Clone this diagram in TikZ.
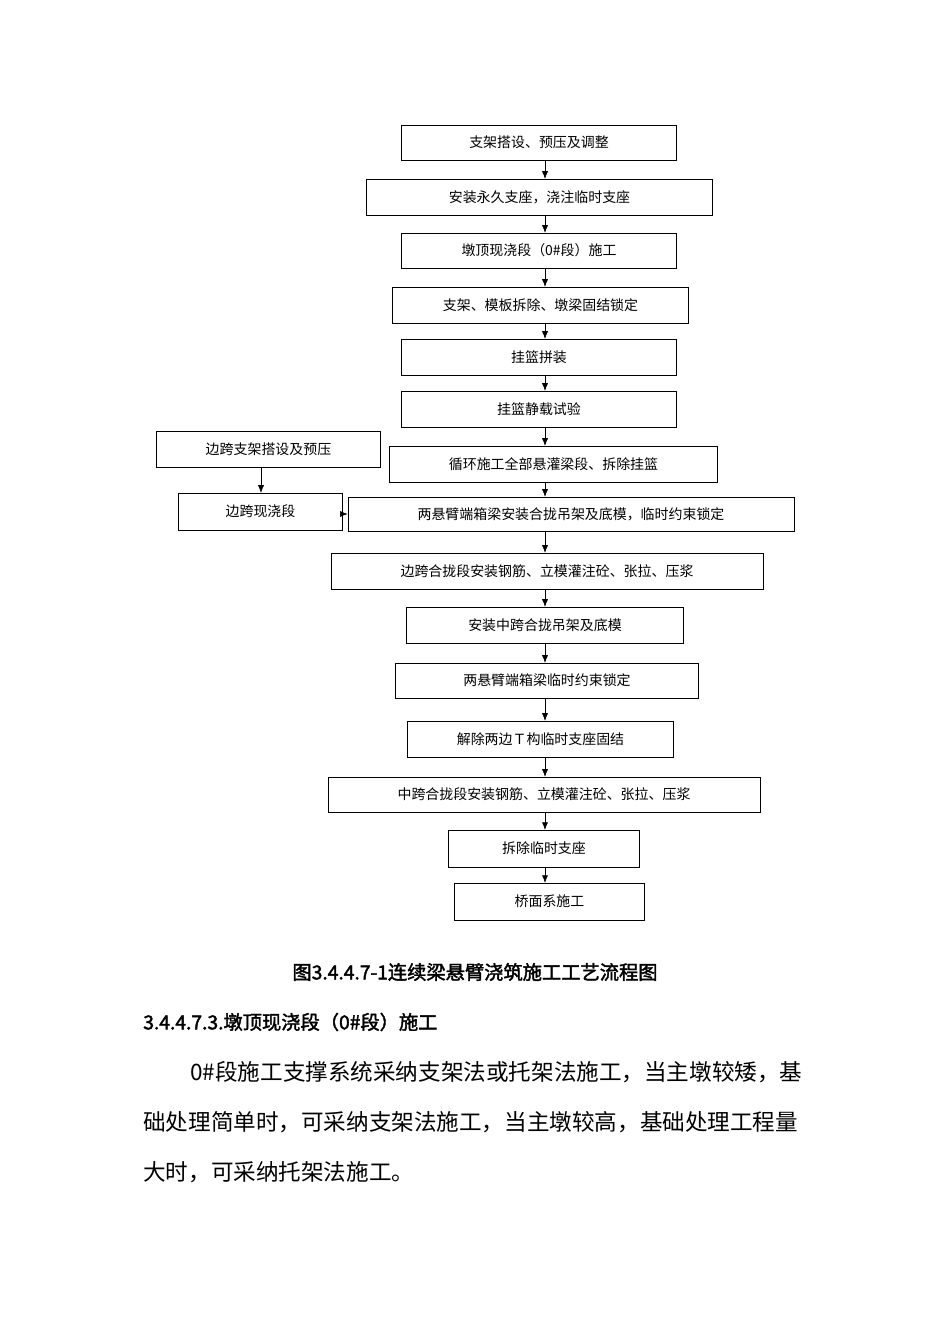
\documentclass[tikz,border=0pt]{standalone}
\usepackage{fontspec}
\setmainfont{Noto Sans CJK SC}[AutoFakeBold=2]
\usetikzlibrary{arrows.meta}
\begin{document}
\begin{tikzpicture}[x=0.02646cm,y=-0.02646cm]
        \tikzset{every node/.style={font=\fontsize{10.5pt}{12pt}\selectfont},
                 flowbox/.style={draw,inner sep=0pt},
                 flowarrow/.style={-{Latex[length=2mm,width=1.6mm]}}}
        \useasboundingbox (0,0) rectangle (950,1344);
        % main column
        \node[flowbox,minimum width=276*0.75pt,minimum height=35*0.75pt] (b1) at (539,142.5) {支架搭设、预压及调整};
        \node[flowbox,minimum width=347*0.75pt,minimum height=36*0.75pt] (b2) at (539.5,197) {安装永久支座，浇注临时支座};
        \node[flowbox,minimum width=276*0.75pt,minimum height=35*0.75pt] (b3) at (539,250.5) {墩顶现浇段（0\#段）施工};
        \node[flowbox,minimum width=297*0.75pt,minimum height=36*0.75pt] (b4) at (540.5,305) {支架、模板拆除、墩梁固结锁定};
        \node[flowbox,minimum width=276*0.75pt,minimum height=36*0.75pt] (b5) at (539,357) {挂篮拼装};
        \node[flowbox,minimum width=276*0.75pt,minimum height=36*0.75pt] (b6) at (539,409) {挂篮静载试验};
        \node[flowbox,minimum width=329*0.75pt,minimum height=36*0.75pt] (b7) at (553.5,464) {循环施工全部悬灌梁段、拆除挂篮};
        \node[flowbox,minimum width=448*0.75pt,minimum height=34*0.75pt] (b8) at (571,514) {两悬臂端箱梁安装合拢吊架及底模，临时约束锁定};
        \node[flowbox,minimum width=434*0.75pt,minimum height=36*0.75pt] (b9) at (547,571) {边跨合拢段安装钢筋、立模灌注砼、张拉、压浆};
        \node[flowbox,minimum width=278*0.75pt,minimum height=36*0.75pt] (b10) at (545,625) {安装中跨合拢吊架及底模};
        \node[flowbox,minimum width=304*0.75pt,minimum height=35*0.75pt] (b11) at (547,680.5) {两悬臂端箱梁临时约束锁定};
        \node[flowbox,minimum width=267*0.75pt,minimum height=36*0.75pt] (b12) at (540.5,739) {解除两边Ｔ构临时支座固结};
        \node[flowbox,minimum width=434*0.75pt,minimum height=35*0.75pt] (b13) at (544,794.5) {中跨合拢段安装钢筋、立模灌注砼、张拉、压浆};
        \node[flowbox,minimum width=192*0.75pt,minimum height=37*0.75pt] (b14) at (544,848.5) {拆除临时支座};
        \node[flowbox,minimum width=191*0.75pt,minimum height=37*0.75pt] (b15) at (549.5,901.5) {桥面系施工};
        % side branch
        \node[flowbox,minimum width=225*0.75pt,minimum height=36*0.75pt] (l1) at (268.5,449) {边跨支架搭设及预压};
        \node[flowbox,minimum width=165*0.75pt,minimum height=37*0.75pt] (l2) at (260.5,511.5) {边跨现浇段};
        \foreach \a/\b in {b1/b2,b2/b3,b3/b4,b4/b5,b5/b6,b6/b7,b7/b8,b8/b9,b9/b10,b10/b11,b11/b12,b12/b13,b13/b14,b14/b15}
          \draw[flowarrow] (545,0 |- \a.south) -- (545,0 |- \b.north);
        \draw[flowarrow] (261,0 |- l1.south) -- (261,0 |- l2.north);
        \draw[flowarrow] (l2.east |- 0,514) -- (b8.west);
        % caption and text
        \node[font=\fontsize{14.5pt}{16pt}\selectfont\bfseries] (cap) at (475,972) {图3.4.4.7-1连续梁悬臂浇筑施工工艺流程图};
        \node[anchor=west,inner sep=0pt,font=\fontsize{14.5pt}{16pt}\selectfont\bfseries] (head) at (143,1022) {3.4.4.7.3.墩顶现浇段（0\#段）施工};
        \node[anchor=west,inner sep=0pt,font=\fontsize{17pt}{18pt}\selectfont] (p1) at (190,1072) {0\#段施工支撑系统采纳支架法或托架法施工，当主墩较矮，基};
        \node[anchor=west,inner sep=0pt,font=\fontsize{17pt}{18pt}\selectfont] (p2) at (143,1122) {础处理简单时，可采纳支架法施工，当主墩较高，基础处理工程量};
        \node[anchor=west,inner sep=0pt,font=\fontsize{17pt}{18pt}\selectfont] (p3) at (143,1172) {大时，可采纳托架法施工。};
\end{tikzpicture}
\end{document}
